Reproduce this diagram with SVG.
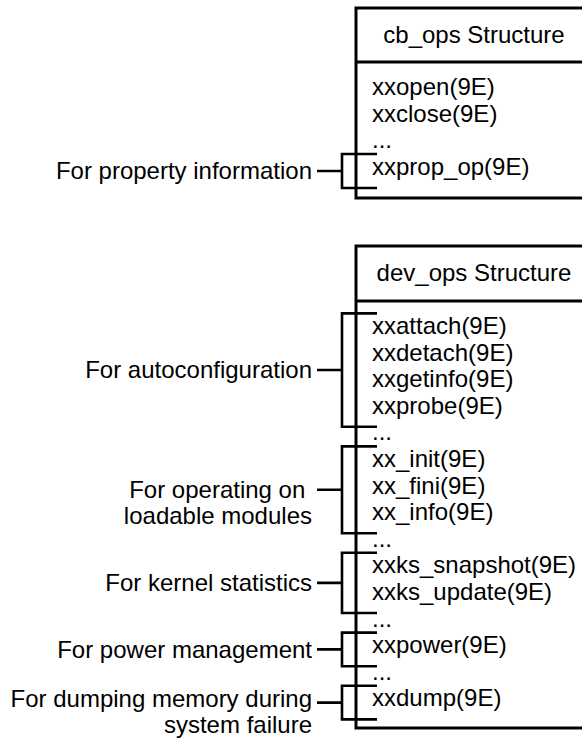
<svg xmlns="http://www.w3.org/2000/svg" width="582" height="738" viewBox="0 0 582 738">
<style>
text{font-family:"Liberation Sans",Arial,Helvetica,sans-serif;font-size:24px;fill:#000}
.lbl{text-anchor:end}
.ttl{text-anchor:middle}
.box{fill:none;stroke:#000;stroke-width:3}
.br{fill:none;stroke:#000;stroke-width:2.6}
</style>
<rect width="582" height="738" fill="#fff"/>
<g id="cb_ops">
<path class="box" d="M600 8H356V198H600M356 62H600"/>
<text class="ttl" x="474" y="43">cb_ops Structure</text>
<text x="372" y="95.2">xxopen(9E)</text>
<text x="372" y="121.8">xxclose(9E)</text>
<text x="372" y="148.4">...</text>
<text x="372" y="175">xxprop_op(9E)</text>
</g>
<g id="dev_ops">
<path class="box" d="M600 246H356V728H600M356 301H600"/>
<text class="ttl" x="474" y="281">dev_ops Structure</text>
<text x="372" y="334">xxattach(9E)</text>
<text x="372" y="360.6">xxdetach(9E)</text>
<text x="372" y="387.2">xxgetinfo(9E)</text>
<text x="372" y="413.8">xxprobe(9E)</text>
<text x="372" y="440.4">...</text>
<text x="372" y="467">xx_init(9E)</text>
<text x="372" y="493.6">xx_fini(9E)</text>
<text x="372" y="520.2">xx_info(9E)</text>
<text x="372" y="546.8">...</text>
<text x="372" y="573.4">xxks_snapshot(9E)</text>
<text x="372" y="600">xxks_update(9E)</text>
<text x="372" y="626.6">...</text>
<text x="372" y="653.2">xxpower(9E)</text>
<text x="372" y="679.8">...</text>
<text x="372" y="706.4">xxdump(9E)</text>
</g>
<g id="label_property"><text class="lbl" x="312" y="178.5">For property information</text></g>
<g id="label_autoconf"><text class="lbl" x="312" y="378">For autoconfiguration</text></g>
<g id="label_modules"><text class="lbl" x="305.3" y="497.5">For operating on</text><text class="lbl" x="312" y="523.5">loadable modules</text></g>
<g id="label_kstat"><text class="lbl" x="312" y="591">For kernel statistics</text></g>
<g id="label_power"><text class="lbl" x="312" y="657.5">For power management</text></g>
<g id="label_dump"><text class="lbl" x="312" y="706.5">For dumping memory during</text><text class="lbl" x="312" y="732.5">system failure</text></g>
<g id="connectors">
<path class="br" d="M377 154H342V188H377M317 171H342"/>
<path class="br" d="M377 313.4H342V426.8H377M317 370H342"/>
<path class="br" d="M377 446.4H342V533.2H377M317 489.8H342"/>
<path class="br" d="M377 552.8H342V613H377M317 582.9H342"/>
<path class="br" d="M377 632.6H342V666.2H377M317 649.4H342"/>
<path class="br" d="M377 685.8H342V719.4H377M317 702.6H342"/>
</g>
</svg>
